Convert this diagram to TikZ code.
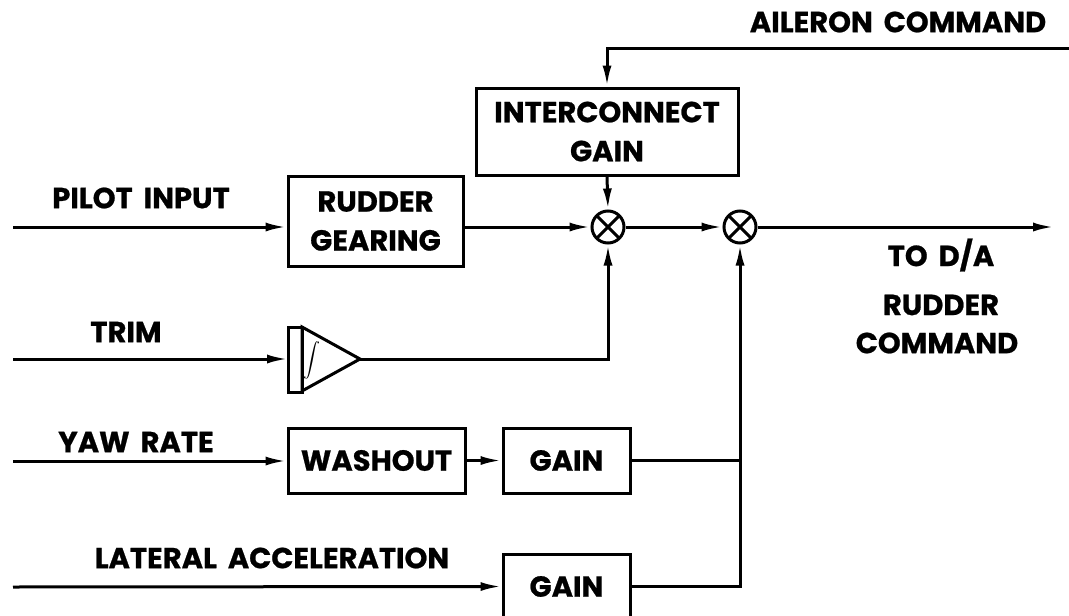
\documentclass[tikz,border=0pt]{standalone}
\usepackage{fontspec}
\usepackage{graphicx}
\setmainfont{Poppins}[BoldFeatures={FakeBold=0.8}]
\usetikzlibrary{arrows.meta,calc}
\tikzset{
  >={Latex[length=21pt,width=9pt]},
  wire/.style={line width=3pt},
  blk/.style={draw,line width=3pt,inner sep=0pt,align=center,font=\lbl},
  lab/.style={inner sep=0pt,font=\lbl},
  sumj/.style={draw,circle,line width=3pt,minimum size=32pt,inner sep=0pt,
    path picture={\draw[line width=3pt] (path picture bounding box.south west) -- (path picture bounding box.north east)
      (path picture bounding box.north west) -- (path picture bounding box.south east);}},
}
\newcommand{\lbl}{\fontsize{29}{39}\selectfont\bfseries}
\begin{document}
\begin{tikzpicture}[x=1pt,y=-1pt]
\useasboundingbox (0,0) rectangle (1069,616);
% labels
\node[lab] (ailtxt) at (898,22) {AILERON\, COMMAND};
\node[lab] (piltxt) at (141,198) {PILOT\, INPUT};
\node[lab] (trimtxt) at (126,332) {TRIM};
\node[lab] (yawtxt) at (136,442) {YAW\, RATE};
\node[lab] (lattxt) at (272,558) {LATERAL\, ACCELERATION};
\node[lab] (toda) at (941,255) {TO\, D/A};
\node[lab] (rudtxt) at (941,305) {RUDDER};
\node[lab] (cmdtxt) at (937,343) {COMMAND};
% blocks
\node[blk,minimum width=262pt,minimum height=87pt] (ic) at (607,131.5) {INTERCONNECT\\GAIN};
\node[blk,minimum width=175pt,minimum height=90pt] (rg) at (375.5,221) {RUDDER\\GEARING};
\node[blk,minimum width=177pt,minimum height=65pt] (wo) at (376.5,460.5) {WASHOUT};
\node[blk,minimum width=127pt,minimum height=65pt] (g1) at (566.5,460.5) {GAIN};
\node[blk,minimum width=127pt,minimum height=65pt] (g2) at (566.5,586.5) {GAIN};
\node[sumj] (s1) at (608,227) {};
\node[sumj] (s2) at (740,227) {};
% integrator
\coordinate (intin) at (288,359);
\coordinate (intout) at (360,359);
\draw[wire] (288,327) rectangle (302,392);
\draw[wire,line join=miter] (302,327) -- (intout) -- (302,391) -- cycle;
\node[inner sep=0pt] (intsym) at (312,360) {\scalebox{1.7}{$\displaystyle\int$}};
% inputs
\coordinate (ailin) at (1069,48);
\coordinate (pin) at (13,227);
\coordinate (tin) at (13,359);
\coordinate (yin) at (13,461);
\coordinate (lin) at (13,587);
\coordinate (out) at (1054,227);
% connectors
\draw[wire,->] (ailin) -| (ic.north);
\draw[wire,->] (ic.south) -- (s1.north);
\draw[wire,->] (pin) -- (pin -| rg.west);
\draw[wire,->] (rg.east |- s1) -- (s1.west);
\draw[wire,->] (s1.east) -- (s2.west);
\draw[wire,->] (s2.east) -- (out);
\draw[wire,->] (tin) -- (intin);
\draw[wire,->] (intout) -| (s1.south);
\draw[wire,->] (yin) -- (yin -| wo.west);
\draw[wire,->] (wo.east) -- (g1.west);
\draw[wire] (g1.east) -- (g1.east -| s2);
\draw[wire,->] (g2.east) -| (s2.south);
\draw[wire,->] (lin) -- (g2.west);
\end{tikzpicture}
\end{document}
